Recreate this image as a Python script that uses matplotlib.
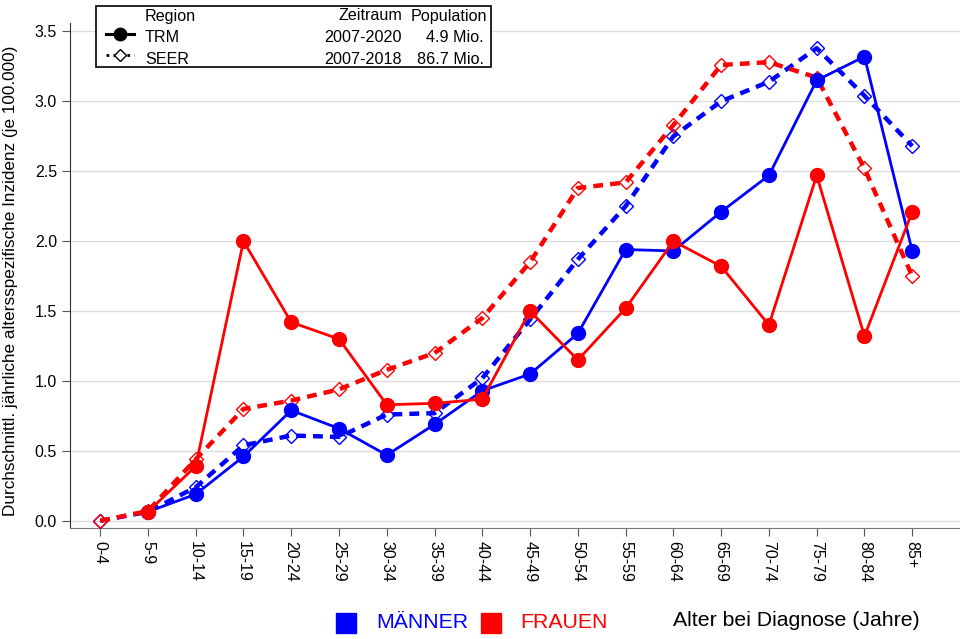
import matplotlib
matplotlib.use("Agg")
import matplotlib.pyplot as plt
from matplotlib.lines import Line2D
from matplotlib.patches import Rectangle

plt.rcParams['font.family'] = ['Liberation Sans', 'DejaVu Sans']

age_groups = ["0-4", "5-9", "10-14", "15-19", "20-24", "25-29", "30-34", "35-39",
              "40-44", "45-49", "50-54", "55-59", "60-64", "65-69", "70-74",
              "75-79", "80-84", "85+"]

# TRM (starts at 5-9)
trm_men = [None, 0.065, 0.19, 0.46, 0.79, 0.66, 0.47, 0.69, 0.93, 1.05, 1.34,
           1.94, 1.93, 2.21, 2.47, 3.15, 3.32, 1.93]
trm_women = [None, 0.065, 0.39, 2.00, 1.42, 1.30, 0.83, 0.84, 0.87, 1.50, 1.15,
             1.52, 2.00, 1.82, 1.40, 2.47, 1.32, 2.21]
# SEER
seer_men = [0.0, 0.065, 0.24, 0.54, 0.61, 0.60, 0.76, 0.77, 1.02, 1.44, 1.87,
            2.25, 2.75, 3.00, 3.14, 3.38, 3.04, 2.68]
seer_women = [0.0, 0.07, 0.44, 0.80, 0.86, 0.94, 1.08, 1.20, 1.45, 1.85, 2.38,
              2.42, 2.83, 3.26, 3.28, 3.17, 2.52, 1.75]

yticks = [0.0, 0.5, 1.0, 1.5, 2.0, 2.5, 3.0, 3.5]

BLUE = "#0000ff"
RED = "#ff0000"

fig = plt.figure(figsize=(9.6, 6.39), dpi=100)
ax = fig.add_axes([0.073, 0.174, 0.927, 0.79])

x = list(range(len(age_groups)))

def trm_xy(vals):
    xs = [i for i, v in zip(x, vals) if v is not None]
    ys = [v for v in vals if v is not None]
    return xs, ys

for vals, col in [(seer_men, BLUE), (seer_women, RED)]:
    ax.plot(x, vals, color=col, lw=3.2, ls=(0, (2.2, 1.6)), marker='D',
            markersize=7, markerfacecolor='none', markeredgecolor=col,
            markeredgewidth=1.0, zorder=3)

for vals, col in [(trm_men, BLUE), (trm_women, RED)]:
    xs, ys = trm_xy(vals)
    ax.plot(xs, ys, color=col, lw=2.0, ls='-', marker='o', markersize=10,
            markerfacecolor=col, markeredgecolor=col, zorder=4)

ax.set_xlim(-0.63, 18.0)
ax.set_ylim(-0.05, 3.56)
ax.set_yticks(yticks)
ax.set_yticklabels([f"{t:.1f}" for t in yticks], fontsize=11.5)
ax.set_xticks(x)
ax.set_xticklabels(age_groups, rotation=270, fontsize=11.5)
ax.yaxis.grid(True, color="#dddddd", lw=1.0)
ax.set_axisbelow(True)
for s in ["top", "right"]:
    ax.spines[s].set_visible(False)
ax.spines["left"].set_color("#333333")
ax.spines["bottom"].set_color("#777777")
ax.tick_params(axis='both', direction='out', length=6, color="#555555")
ax.set_ylabel("Durchschnittl. jährliche altersspezifische Inzidenz (je 100.000)",
              fontsize=12.3, labelpad=5)
ax.yaxis.set_label_coords(-0.058, 0.49)

# Legend box (top)
W, H = 960.0, 639.0
def fx(px): return px / W
def fy(py): return 1 - py / H

box = Rectangle((fx(96), fy(67)), fx(491) - fx(96), fy(6) - fy(67),
                transform=fig.transFigure, fill=True, facecolor='white',
                edgecolor='black', lw=1.2, zorder=10)
fig.patches.append(box)
fs = 11.6
fig.text(fx(145), fy(16), "Region", fontsize=fs, va='center', ha='left', zorder=11)
fig.text(fx(402), fy(16), "Zeitraum", fontsize=fs, va='center', ha='right', zorder=11)
fig.text(fx(487), fy(16), "Population", fontsize=fs, va='center', ha='right', zorder=11)
fig.text(fx(145), fy(37), "TRM", fontsize=fs, va='center', ha='left', zorder=11)
fig.text(fx(402), fy(37), "2007-2020", fontsize=fs, va='center', ha='right', zorder=11)
fig.text(fx(484), fy(37), "4.9 Mio.", fontsize=fs, va='center', ha='right', zorder=11)
fig.text(fx(145), fy(59), "SEER", fontsize=fs, va='center', ha='left', zorder=11)
fig.text(fx(402), fy(59), "2007-2018", fontsize=fs, va='center', ha='right', zorder=11)
fig.text(fx(484), fy(59), "86.7 Mio.", fontsize=fs, va='center', ha='right', zorder=11)
l1 = Line2D([fx(106), fx(134)], [fy(34), fy(34)], transform=fig.transFigure,
            color='black', lw=2.2, zorder=11)
m1 = Line2D([fx(120)], [fy(34)], transform=fig.transFigure, marker='o',
            markersize=9, color='black', zorder=12)
l2 = Line2D([fx(106), fx(134)], [fy(55), fy(55)], transform=fig.transFigure,
            color='black', lw=2.0, ls=(0, (1, 1.5)), zorder=11)
m2 = Line2D([fx(120)], [fy(55)], transform=fig.transFigure, marker='D',
            markersize=6, markerfacecolor='white', markeredgecolor='black',
            markeredgewidth=1.0, zorder=12)
for a in (l1, m1, l2, m2):
    fig.lines.append(a)

# Bottom legend
fig.patches.append(Rectangle((fx(336), fy(633)), fx(20), 20 / H,
                             transform=fig.transFigure, color=BLUE))
fig.text(fx(376), fy(623), "MÄNNER", color=BLUE, fontsize=15.3, va='center', ha='left')
fig.patches.append(Rectangle((fx(481), fy(633)), fx(20), 20 / H,
                             transform=fig.transFigure, color=RED))
fig.text(fx(520), fy(623), "FRAUEN", color=RED, fontsize=15.3, va='center', ha='left')
fig.text(fx(673), fy(621), "Alter bei Diagnose (Jahre)", color='black',
         fontsize=15.3, va='center', ha='left')

fig.savefig("out.png", dpi=100)
